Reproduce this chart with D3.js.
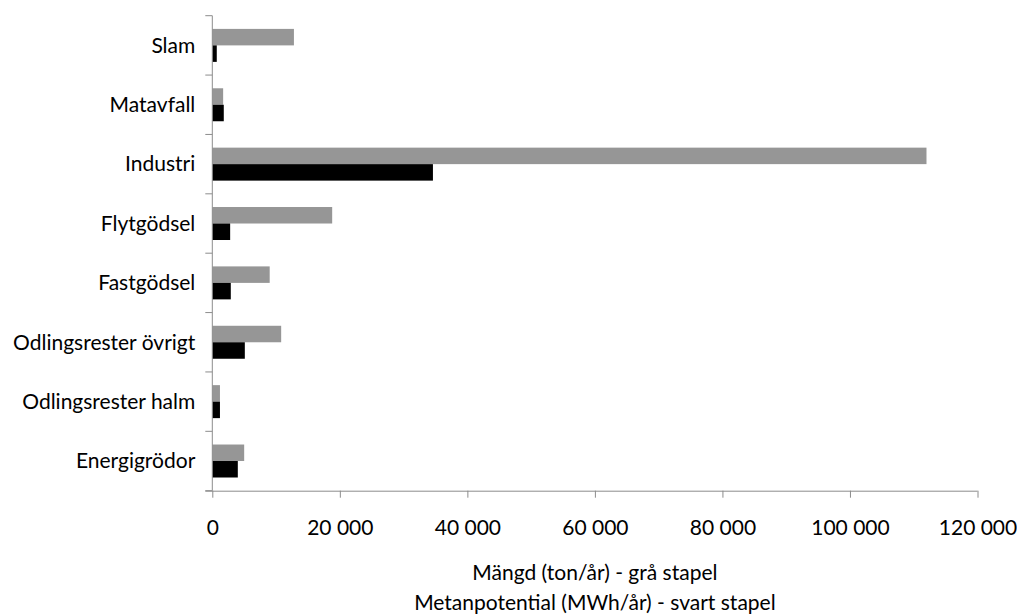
<!DOCTYPE html>
<html>
<head>
<meta charset="utf-8">
<script src="https://cdn.jsdelivr.net/npm/d3@7"></script>
<style>
  html, body { margin: 0; padding: 0; background: #fff; }
  svg text { font-family: Lato, "Open Sans", sans-serif; fill: #000; }
</style>
</head>
<body>
<svg id="chart" width="1017" height="615"></svg>
<script>
// Biogas substrates: amount (ton/år) and methane potential (MWh/år)
const categories = [
  "Slam",
  "Matavfall",
  "Industri",
  "Flytgödsel",
  "Fastgödsel",
  "Odlingsrester övrigt",
  "Odlingsrester halm",
  "Energigrödor"
];
const amount = [12800, 1700, 112000, 18800, 9000, 10800, 1200, 5000];     // grå stapel
const methane = [700, 1800, 34600, 2800, 2900, 5100, 1200, 4000];         // svart stapel
const xTicks = [0, 20000, 40000, 60000, 80000, 100000, 120000];
const titleLines = ["Mängd (ton/år) - grå stapel", "Metanpotential (MWh/år) - svart stapel"];

const series = [
  { key: "amount", values: amount, color: "#969696" },
  { key: "methane", values: methane, color: "#000000" }
];

const svg = d3.select("#chart");
const axisColor = "#8c8c8c";
const fontSize = 21;

const x = d3.scaleLinear().domain([0, 120000]).range([212.3, 977.5]);
const y = d3.scaleBand().domain(categories).range([15.7, 490.7]).padding(0);
const inner = d3.scaleBand().domain(series.map(s => s.key))
  .range([0, y.bandwidth()]).paddingInner(0).paddingOuter(0.8);

// bars
const groups = svg.append("g").selectAll("g")
  .data(series).join("g").attr("fill", d => d.color);
groups.selectAll("rect")
  .data(s => s.values.map((v, i) => ({ key: s.key, cat: categories[i], v })))
  .join("rect")
  .attr("x", x(0))
  .attr("y", d => y(d.cat) + inner(d.key))
  .attr("width", d => x(d.v) - x(0))
  .attr("height", inner.bandwidth());

// x axis
const fmt = v => d3.format(",")(v).replace(/,/g, " ");
const xAxis = svg.append("g")
  .attr("transform", `translate(0,${y.range()[1]})`)
  .call(d3.axisBottom(x).tickValues(xTicks).tickFormat(fmt).tickSize(7).tickSizeOuter(0).tickPadding(22));
xAxis.select(".domain").attr("stroke", axisColor).attr("d", `M${x(0) - 7},0.5H${x(120000)}`);
xAxis.selectAll(".tick line").attr("stroke", axisColor);
xAxis.selectAll(".tick text").attr("font-size", fontSize).attr("fill", "#000")
  .attr("font-family", "Lato, 'Open Sans', sans-serif");

// y axis: ticks between categories
const yAxisG = svg.append("g");
yAxisG.append("line")
  .attr("x1", x(0)).attr("x2", x(0))
  .attr("y1", y.range()[0]).attr("y2", y.range()[1])
  .attr("stroke", axisColor);
const boundaries = categories.map(c => y(c)).concat([y.range()[1]]);
yAxisG.selectAll("line.tk").data(boundaries).join("line")
  .attr("class", "tk")
  .attr("x1", x(0) - 7).attr("x2", x(0))
  .attr("y1", d => d).attr("y2", d => d)
  .attr("stroke", axisColor);
yAxisG.selectAll("text").data(categories).join("text")
  .attr("x", x(0) - 17)
  .attr("y", d => y(d) + y.bandwidth() / 2 + 2)
  .attr("text-anchor", "end")
  .attr("dominant-baseline", "middle")
  .attr("font-size", fontSize)
  .text(d => d);

// axis title
svg.append("g").selectAll("text").data(titleLines).join("text")
  .attr("x", (x.range()[0] + x.range()[1]) / 2)
  .attr("y", (d, i) => 580 + i * 30)
  .attr("text-anchor", "middle")
  .attr("font-size", fontSize)
  .text(d => d);
</script>
</body>
</html>
